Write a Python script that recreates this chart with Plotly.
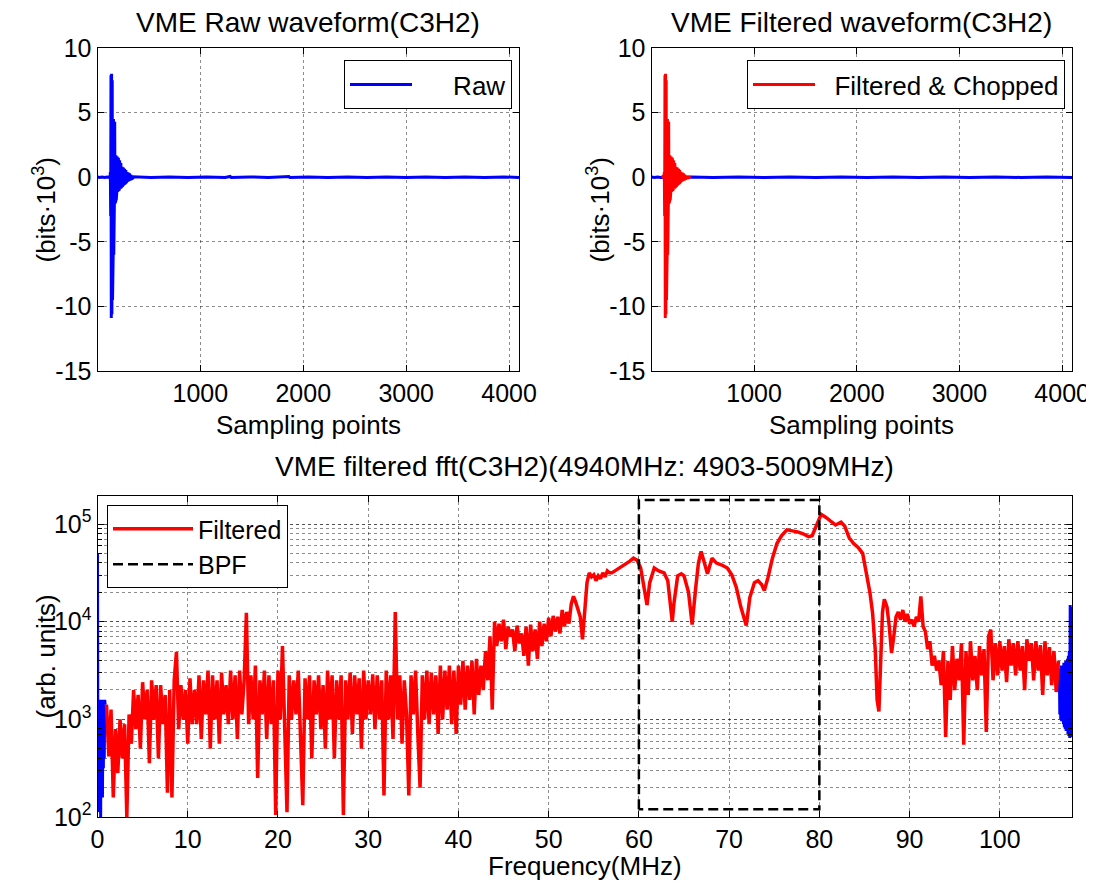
import numpy as np
import plotly.graph_objects as go

# ---------------- waveform data (units: 10^3 bits) ----------------
raw_pre_x = [1, 20, 45, 70, 95, 117]
raw_pre_y = [0.02, -0.02, 0.02, -0.02, 0.02, -0.02]

# burst, one value every 3 samples starting at sample 120
burst_start, burst_step = 120, 3
raw_burst = [0.10, -0.15, 0.40, -3.00, 7.90, -10.90, 8.00, -10.60, 7.50, -9.50,
             4.60, -6.20, 4.50, -6.00, 4.40, -2.00, 4.30, -2.00, 1.70, -1.90,
             1.70, -1.80, 1.60, -1.10, 1.60, -1.10, 1.50, -1.00, 1.50, -1.00,
             1.40, -0.95, 1.30, -0.90, 1.20, -0.90, 1.10, -0.80, 1.00, -0.70,
             0.80, -0.70, 0.80, -0.60, 0.75, -0.60, 0.70, -0.50, 0.65, -0.50,
             0.60, -0.45, 0.55, -0.40, 0.50, -0.35, 0.40, -0.30, 0.40, -0.25,
             0.35, -0.25, 0.30, -0.20, 0.30, -0.20, 0.25, -0.15, 0.20, -0.15,
             0.15, -0.10, 0.12, -0.10, 0.10, -0.08]

raw_post_x = [350, 520, 700, 880, 1060, 1240, 1290, 1300, 1480, 1660, 1860, 1870,
              2050, 2240, 2430, 2620, 2810, 3000, 3190, 3380, 3570, 3760, 3950, 4096]
raw_post_y = [0.03, -0.02, 0.02, -0.02, 0.02, -0.02, 0.06, -0.02, 0.02, -0.02,
              0.05, -0.02, 0.02, -0.02, 0.02, -0.02, 0.02, -0.02, 0.02, -0.02,
              0.02, -0.02, 0.02, -0.02]

# filtered & chopped segment, one value every 3 samples starting at sample 102
filt_start, filt_step = 102, 3
filt_chop = [0.03, -0.03, 0.05, -0.05, 0.08, -0.10, 0.10, -0.15, 0.40, -3.00,
             7.90, -10.90, 8.00, -10.60, 7.50, -9.50, 4.60, -6.20, 4.50, -6.00,
             4.40, -2.00, 4.30, -2.00, 1.70, -1.90, 1.70, -1.80, 1.60, -1.10,
             1.60, -1.10, 1.50, -1.00, 1.50, -1.00, 1.40, -0.95, 1.30, -0.90,
             1.20, -0.90, 1.10, -0.80, 1.00, -0.70, 0.80, -0.70, 0.80, -0.60,
             0.75, -0.60, 0.70, -0.50, 0.65, -0.50, 0.60, -0.45, 0.55, -0.40,
             0.50, -0.35, 0.40, -0.30, 0.40, -0.25, 0.35, -0.25, 0.30, -0.20,
             0.30, -0.20, 0.25, -0.15, 0.20, -0.15, 0.15, -0.10, 0.12, -0.10,
             0.10, -0.08, 0.08, -0.07, 0.07, -0.06, 0.06, -0.05, 0.05, -0.05,
             0.05, -0.04, 0.04]

filt_flat_x = [1, 30, 60, 90, 390, 600, 850, 1100, 1350, 1600, 1850, 2100, 2350,
               2600, 2850, 3100, 3350, 3600, 3850, 4096]
filt_flat_y = [0.02, -0.02, 0.02, -0.02, 0.02, -0.02, 0.02, -0.02, 0.02, -0.02,
               0.02, -0.02, 0.02, -0.02, 0.02, -0.02, 0.02, -0.02, 0.02, -0.02]

wave_ticks = [-15, -10, -5, 0, 5, 10]
wave_ticktext = ["-15", "-10", "-5", "0", "5", "10"]
sample_ticks = [1000, 2000, 3000, 4000]

# ---------------- spectrum data (log10 of amplitude, arb. units) ----------------
spec_step = 0.25
seg_a_start = 1.0
seg_a = [3.15, 2.62, 3.10, 2.20, 2.90, 2.45, 3.00, 2.60,
         2.95, 2.00, 3.05, 2.75, 3.30, 2.90, 3.25, 2.70,
         3.38, 3.00, 3.30, 2.55, 3.40, 3.00, 3.35, 2.60,
         3.35, 2.95, 3.25, 2.25, 3.30, 2.20, 3.40, 3.69,
         2.90, 3.35, 3.00, 3.30, 2.75, 3.42, 2.95, 3.30,
         2.95, 3.45, 2.80, 3.40, 3.05, 3.50, 2.70, 3.45,
         3.00, 3.40, 2.75, 3.48, 3.05, 3.35, 2.95, 3.50,
         3.00, 3.45, 2.80, 3.50, 3.05, 3.40, 4.09, 2.95,
         3.45, 3.00, 3.55, 2.40, 3.40, 3.05, 3.50, 2.80,
         3.45, 2.95, 3.40, 2.02, 3.50, 3.00, 3.75, 2.90,
         2.05, 3.45, 3.00, 3.40, 3.05, 3.50, 2.90, 2.12,
         3.42, 3.00, 3.45, 2.60, 3.40, 3.05, 3.45, 2.90,
         3.35, 2.70, 3.50, 3.00, 3.45, 2.60, 3.40, 3.00,
         3.45, 2.02, 3.40, 3.00, 3.48, 2.85, 3.45, 3.05,
         3.42, 2.70, 3.50, 3.00, 3.40, 3.05, 3.46, 2.90,
         3.45, 3.00, 3.40, 2.22, 3.50, 3.00, 3.45, 2.80,
         4.10, 3.00, 3.45, 2.75, 3.40, 3.05, 2.22, 3.45,
         3.05, 3.50, 2.85, 2.30, 3.45, 3.00, 3.50, 2.95,
         3.48, 3.05, 3.45, 2.85, 3.55, 3.00, 3.50, 3.10,
         3.55, 2.95, 3.50, 2.85, 3.55, 3.15, 3.60, 3.10,
         3.55, 3.20, 3.60, 3.05, 3.62, 3.25, 3.55, 3.30,
         3.70, 3.40, 3.85, 3.10]

seg_b_start = 44.0
seg_b = [4.00, 3.75, 3.98, 3.80, 4.02, 3.72, 3.95, 3.85,
         3.92, 3.70, 3.96, 3.78, 3.88, 3.65, 3.95, 3.55,
         3.97, 3.70, 3.92, 3.62, 4.00, 3.75, 3.98, 3.80,
         4.04, 3.85, 4.06, 3.90, 4.05, 3.88, 4.12, 3.95,
         4.10, 3.98, 4.18, 4.26, 4.20, 4.12, 4.05, 3.82,
         4.10, 4.40, 4.50, 4.46, 4.48, 4.42, 4.47, 4.44,
         4.50, 4.46, 4.52, 4.50]

seg_c_freq = [57.0, 57.5, 58.0, 58.5, 59.0, 59.4, 59.8, 60.2, 60.6, 60.9,
              61.2, 61.7, 62.2, 62.8, 63.2, 63.5, 63.7, 63.9, 64.3, 64.7,
              65.0, 65.5, 65.9, 66.3, 66.6, 66.9, 67.2, 67.6, 68.1, 68.6,
              69.2, 69.8, 70.3, 70.8, 71.3, 71.9, 72.3, 72.8, 73.2, 73.6,
              73.9, 74.3, 74.8, 75.3, 75.8, 76.4, 77.0, 77.6, 78.2, 78.8,
              79.2, 79.7, 80.2, 80.7, 81.3, 81.8, 82.4, 82.8, 83.3, 83.8,
              84.3, 84.8, 85.2, 85.6, 85.9, 86.2, 86.4, 86.6, 86.8, 87.0,
              87.2, 87.5]
seg_c = [4.50, 4.53, 4.55, 4.58, 4.62, 4.65, 4.63, 4.55, 4.35, 4.17,
         4.40, 4.55, 4.52, 4.50, 4.42, 4.15, 4.00, 4.20, 4.47, 4.49,
         4.47, 4.30, 3.97, 4.35, 4.60, 4.72, 4.62, 4.49, 4.65, 4.60,
         4.58, 4.55, 4.48, 4.35, 4.15, 3.96, 4.25, 4.40, 4.42, 4.38,
         4.32, 4.45, 4.65, 4.80, 4.88, 4.94, 4.93, 4.92, 4.90, 4.87,
         4.88, 5.00, 5.10, 5.07, 5.02, 4.99, 5.02, 4.98, 4.86, 4.80,
         4.76, 4.70, 4.50, 4.30, 4.09, 3.70, 3.20, 3.08, 3.60, 4.10,
         4.23, 4.15]

seg_d_start = 87.75
seg_d = [3.95, 3.68, 3.85, 4.05, 4.10, 4.02, 4.12, 4.00,
         4.08, 3.98, 4.02, 3.95, 4.05, 4.00, 4.26, 3.95,
         3.90, 3.72, 3.80, 3.55, 3.65, 3.50, 3.60, 3.35,
         3.70, 2.82, 3.60, 3.20, 3.75, 3.30, 3.62, 3.40,
         3.78, 2.74, 3.70, 3.25, 3.80, 3.40, 3.65, 3.30,
         3.75, 3.45, 3.72, 2.87, 3.85, 3.92, 3.40, 3.78,
         3.45, 3.80, 3.50, 3.75, 3.38, 3.82, 3.55, 3.78,
         3.45, 3.80, 3.50, 3.75, 3.30, 3.82, 3.60, 3.78,
         3.40, 3.80, 3.50, 3.76, 3.25, 3.80, 3.45, 3.74,
         3.35, 3.70, 3.28, 3.60]

# raw spectrum, visible only outside the filtered band
edge_step = 0.05
blue_left_start = 0.0
blue_left = [4.70, 2.05, 3.20, 2.10, 3.15, 2.30, 3.20, 2.00, 3.10, 2.40,
             3.20, 2.20, 3.15, 2.50, 3.18, 2.60, 3.20, 3.15]
blue_right_start = 106.6
blue_right = [3.50, 3.05, 3.52, 3.00, 3.55, 2.98, 3.50, 3.02, 3.55, 2.95,
              3.58, 2.92, 3.55, 2.90, 3.60, 2.88, 3.58, 2.90, 3.62, 2.85,
              3.65, 2.83, 3.70, 2.81, 4.17, 2.82, 4.15, 2.85, 4.10]

bpf_low, bpf_high = 60, 80
bpf_floor, bpf_top = 120, 1.76e5

freq_ticks = list(range(0, 101, 10))
amp_ticks = [1e2, 1e3, 1e4, 1e5]
amp_ticktext = ["10<sup>2</sup>", "10<sup>3</sup>", "10<sup>4</sup>", "10<sup>5</sup>"]


def samples(start, step, vals):
    return start + step * np.arange(len(vals))


raw_x = np.concatenate([raw_pre_x, samples(burst_start, burst_step, raw_burst), raw_post_x])
raw_y = np.concatenate([raw_pre_y, raw_burst, raw_post_y])

spec_f = np.concatenate([samples(seg_a_start, spec_step, seg_a),
                         samples(seg_b_start, spec_step, seg_b),
                         seg_c_freq,
                         samples(seg_d_start, spec_step, seg_d)])
spec_v = np.power(10.0, np.concatenate([seg_a, seg_b, seg_c, seg_d]))

blue_f = np.concatenate([samples(blue_left_start, edge_step, blue_left), [np.nan],
                         samples(blue_right_start, edge_step, blue_right)])
blue_v = np.power(10.0, np.concatenate([blue_left, [np.nan], blue_right]))

RED = "#ff0000"
BLUE = "#0000ff"
FONT = "Liberation Sans, Arial, sans-serif"
GRID = "rgba(0,0,0,0.45)"

fig = go.Figure()

fig.add_trace(go.Scatter(x=raw_x, y=raw_y, mode="lines",
                         name="\u00a0\u00a0\u00a0\u00a0\u00a0Raw",
                         line=dict(color=BLUE, width=3), xaxis="x", yaxis="y",
                         legend="legend"))

fig.add_trace(go.Scatter(x=filt_flat_x, y=filt_flat_y, mode="lines", showlegend=False,
                         line=dict(color=BLUE, width=3), xaxis="x2", yaxis="y2"))
fig.add_trace(go.Scatter(x=samples(filt_start, filt_step, filt_chop), y=filt_chop,
                         mode="lines", name="\u00a0\u00a0Filtered & Chopped",
                         line=dict(color=RED, width=3), xaxis="x2", yaxis="y2",
                         legend="legend2"))

fig.add_trace(go.Scatter(x=blue_f, y=blue_v, mode="lines", showlegend=False,
                         line=dict(color=BLUE, width=3), xaxis="x3", yaxis="y3"))
fig.add_trace(go.Scatter(x=spec_f, y=spec_v, mode="lines", name="Filtered",
                         line=dict(color=RED, width=3.5), xaxis="x3", yaxis="y3",
                         legend="legend3"))
fig.add_trace(go.Scatter(x=[bpf_low, bpf_low, bpf_high, bpf_high, bpf_low],
                         y=[bpf_floor, bpf_top, bpf_top, bpf_floor, bpf_floor],
                         mode="lines", name="BPF",
                         line=dict(color="black", width=2.5, dash="10px,5px"),
                         xaxis="x3", yaxis="y3", legend="legend3"))

# the page body has an 8px margin, so the figure is placed 8px in from the corner
OFF = 8
W, H = 1094 - OFF, 885 - OFF


def px_x(p):
    return (p - OFF) / W


def px_y(p):
    return 1 - (p - OFF) / H


axis_common = dict(showline=True, linecolor="black", linewidth=1, mirror="ticks",
                   ticks="inside", ticklen=6, tickcolor="black", automargin=False,
                   showgrid=True, gridcolor=GRID, griddash="dot", gridwidth=1,
                   zeroline=False, tickfont=dict(size=25, color="black"))

xdom_l = [px_x(97.5), px_x(519)]
xdom_r = [px_x(651.5), px_x(1072)]
xdom_b = [px_x(97.5), px_x(1072)]
ydom_t = [px_y(371), px_y(48)]
ydom_b = [px_y(817), px_y(496)]


def mid(d):
    return (d[0] + d[1]) / 2


def label(text, x, y, size=26, angle=0):
    return dict(text=text, x=x, y=y, xref="paper", yref="paper", xanchor="center",
                yanchor="middle", showarrow=False, textangle=angle,
                font=dict(size=size, color="black"))


legend_common = dict(bgcolor="white", bordercolor="black", borderwidth=1,
                     yanchor="top", font=dict(size=26))

fig.update_layout(
    width=W, height=H,
    margin=dict(l=0, r=0, t=0, b=0),
    paper_bgcolor="white", plot_bgcolor="white",
    font=dict(family=FONT, color="black"),
    xaxis=dict(axis_common, domain=xdom_l, range=[1, 4096], tickvals=sample_ticks, anchor="y"),
    yaxis=dict(axis_common, domain=ydom_t, range=[-15, 10], tickvals=wave_ticks,
               ticktext=wave_ticktext, anchor="x"),
    xaxis2=dict(axis_common, domain=xdom_r, range=[1, 4096], tickvals=sample_ticks, anchor="y2"),
    yaxis2=dict(axis_common, domain=ydom_t, range=[-15, 10], tickvals=wave_ticks,
                ticktext=wave_ticktext, anchor="x2"),
    xaxis3=dict(axis_common, domain=xdom_b, range=[0, 108], tickvals=freq_ticks, anchor="y3"),
    yaxis3=dict(axis_common, domain=ydom_b, type="log", range=[2, 5.287],
                tickvals=amp_ticks, ticktext=amp_ticktext,
                minor=dict(ticks="inside", ticklen=4, tickcolor="black", dtick="D1",
                           showgrid=True, gridcolor=GRID, griddash="dot", gridwidth=1),
                anchor="x3"),
    legend=dict(legend_common, x=px_x(512), y=px_y(60), xanchor="right", itemwidth=62),
    legend2=dict(legend_common, x=px_x(1065), y=px_y(60), xanchor="right", itemwidth=62),
    legend3=dict(legend_common, x=px_x(107), y=px_y(505), xanchor="left", itemwidth=80,
                 tracegroupgap=0, font=dict(size=25)),
    annotations=[
        label("VME Raw waveform(C3H2)", mid(xdom_l), px_y(22), size=28),
        label("VME Filtered waveform(C3H2)", mid(xdom_r), px_y(22), size=28),
        label("VME filtered fft(C3H2)(4940MHz: 4903-5009MHz)", mid(xdom_b), px_y(467), size=28),
        label("Sampling points", mid(xdom_l), px_y(425)),
        label("Sampling points", mid(xdom_r), px_y(425)),
        label("Frequency(MHz)", mid(xdom_b), px_y(866)),
        label("(bits·10<sup>3</sup>)", px_x(45), mid(ydom_t), angle=-90),
        label("(bits·10<sup>3</sup>)", px_x(599), mid(ydom_t), angle=-90),
        label("(arb. units)", px_x(45), mid(ydom_b), angle=-90),
    ],
)

fig.write_html("out.html")
